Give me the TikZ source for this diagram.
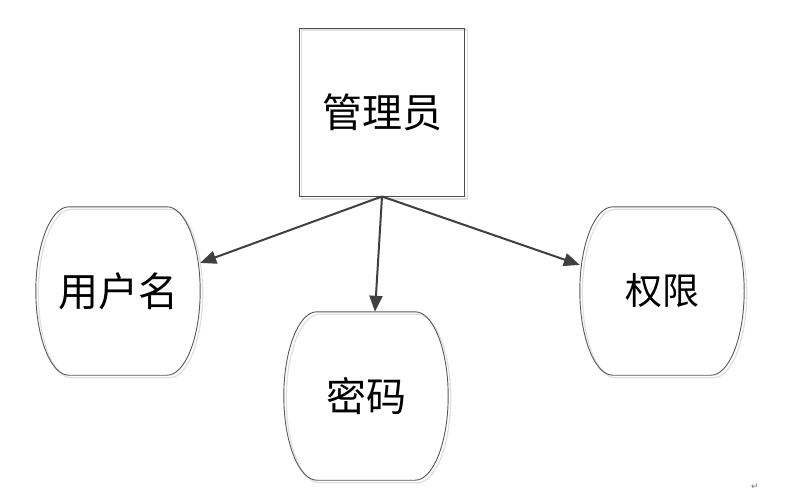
\documentclass[tikz,border=0pt]{standalone}
\usepackage{fontspec}
\newfontfamily\cjk{Noto Sans CJK SC}
\newfontfamily\dejavu{DejaVu Sans}
\usetikzlibrary{arrows.meta,calc,backgrounds}
\newcommand{\barrel}[2]{%
  \draw[#2] ($(#1.north west)+(33,0)$) -- ($(#1.north east)+(-33,0)$)
    .. controls ($(#1.north east)+(-15,0)$) and ($(#1.north east)+(0,38)$) .. (#1.east)
    .. controls ($(#1.south east)+(0,-38)$) and ($(#1.south east)+(-15,0)$) .. ($(#1.south east)+(-33,0)$)
    -- ($(#1.south west)+(33,0)$)
    .. controls ($(#1.south west)+(15,0)$) and ($(#1.south west)+(0,-38)$) .. (#1.west)
    .. controls ($(#1.north west)+(0,38)$) and ($(#1.north west)+(15,0)$) .. cycle;}
\tikzset{
  barrelbox/.style={rectangle, inner sep=0pt, minimum width=164pt, minimum height=168pt},
  outline/.style={draw=black!65, line width=0.9pt},
  shadowline/.style={draw=black!12, line width=1.2pt, transform canvas={shift={(2.5pt,-2.5pt)}}},
  arr/.style={draw=black!75, line width=2pt, -{Triangle[length=16pt,width=13pt]}},
  big/.style={font=\cjk\fontsize{40}{40}\selectfont},
  mid/.style={font=\cjk\fontsize{37}{37}\selectfont}
}
\begin{document}
\begin{tikzpicture}[x=1pt,y=-1pt]
\useasboundingbox (0,0) rectangle (801,493);
\node[draw=black!70, line width=0.9pt, minimum width=165pt, minimum height=168pt, inner sep=0pt, big] (admin) at (382,112) {管理员};
\node[barrelbox, big] (user) at (118,291) {用户名};
\node[barrelbox, big] (pwd) at (366,396) {密码};
\node[barrelbox, mid] (perm) at (662,291) {权限};
\node[text=black!55, font=\dejavu\fontsize{9}{9}\selectfont, inner sep=0pt] (ret) at (755,487) {↵};
\begin{pgfonlayer}{background}
  \fill[white] (0,0) rectangle (801,493);
  \draw[shadowline] (admin.north west) rectangle (admin.south east);
  \barrel{user}{shadowline}
  \barrel{pwd}{shadowline}
  \barrel{perm}{shadowline}
\end{pgfonlayer}
\barrel{user}{outline}
\barrel{pwd}{outline}
\barrel{perm}{outline}
\draw[arr] (admin.south) -- ($(user.north east)!0.333!(user.south east)$);
\draw[arr] (admin.south) -- ($(pwd.north)+(9,0)$);
\draw[arr] (admin.south) -- ($(perm.north west)!0.345!(perm.south west)$);
\end{tikzpicture}
\end{document}
